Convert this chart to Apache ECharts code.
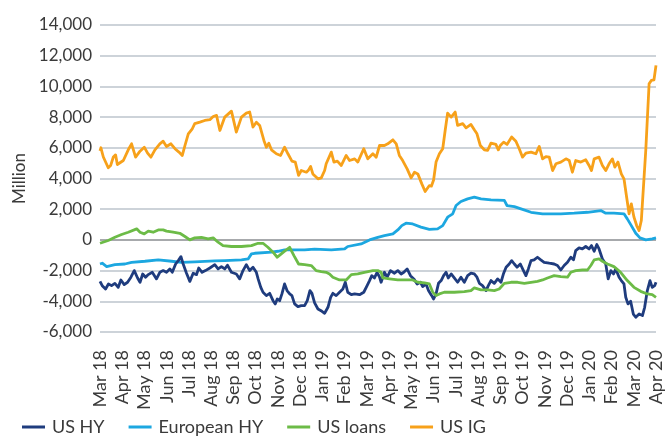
<!DOCTYPE html>
<html>
<head>
<meta charset="utf-8">
<script src="https://cdn.jsdelivr.net/npm/echarts@6/dist/echarts.min.js"></script>
<style>
  html, body { margin: 0; padding: 0; background: #fff; }
  #chart { width: 665px; height: 438px; }
</style>
</head>
<body>
<div id="chart"></div>
<script>
// Month labels, one per axis step (0 = Mar 18)
const months = ['Mar 18', 'Apr 18', 'May 18', 'Jun 18', 'Jul 18', 'Aug 18', 'Sep 18', 'Oct 18', 'Nov 18', 'Dec 18',
  'Jan 19', 'Feb 19', 'Mar 19', 'Apr 19', 'May 19', 'Jun 19', 'Jul 19', 'Aug 19', 'Sep 19', 'Oct 19', 'Nov 19', 'Dec 19',
  'Jan 20', 'Feb 20', 'Mar 20', 'Apr 20'];

const yTicks = [-6000, 14000, 2000]; // min, max, step

// [month position, flow in million]
const usHY = [
  [0, -2700], [0.1, -2980], [0.25, -3200], [0.38, -2870], [0.52, -2980], [0.67, -2830], [0.82, -3090], [0.94, -2610],
  [1.09, -2910], [1.24, -2760], [1.39, -2430], [1.54, -2000], [1.69, -2480], [1.8, -2760], [1.92, -2220], [2.05, -2430],
  [2.17, -2260], [2.35, -2110], [2.54, -2540], [2.69, -2110], [2.84, -2000], [2.99, -2110], [3.14, -1890], [3.25, -2110],
  [3.4, -1570], [3.52, -1350], [3.64, -1090], [3.74, -1570], [3.89, -2170], [4.04, -2700], [4.19, -2170], [4.34, -2260],
  [4.44, -1830], [4.59, -2110], [4.74, -2000], [4.94, -1830], [5.16, -1610], [5.31, -1890], [5.46, -1740], [5.61, -1890],
  [5.73, -1650], [5.91, -2110], [6.13, -2220], [6.28, -2540], [6.43, -2000], [6.58, -1610], [6.73, -2000], [6.88, -1780],
  [7.03, -2110], [7.11, -2540], [7.23, -3090], [7.33, -3410], [7.48, -3630], [7.63, -3480], [7.78, -3960], [7.88, -4170],
  [7.97, -3850], [8.08, -3960], [8.18, -3520], [8.3, -2870], [8.41, -3300], [8.53, -3520], [8.63, -3630], [8.75, -4170],
  [8.9, -4350], [9.05, -4280], [9.2, -4280], [9.32, -3960], [9.44, -3300], [9.53, -3480], [9.65, -4100], [9.8, -4500],
  [9.98, -4650], [10.1, -4780], [10.25, -4390], [10.37, -3740], [10.47, -3480], [10.62, -3630], [10.77, -3410],
  [10.92, -3200], [11.03, -2760], [11.14, -3410], [11.3, -3570], [11.45, -3520], [11.67, -3570], [11.86, -3410],
  [12.01, -2980], [12.12, -2650], [12.22, -2330], [12.34, -2480], [12.46, -2110], [12.57, -2430], [12.64, -2760],
  [12.79, -2110], [12.91, -2430], [13.06, -2000], [13.24, -2170], [13.39, -2000], [13.54, -2220], [13.66, -2110],
  [13.81, -1890], [13.96, -2330], [14.11, -2540], [14.26, -2870], [14.41, -2760], [14.51, -3040], [14.66, -2870],
  [14.77, -3300], [14.9, -3600], [15.0, -3850], [15.11, -3520], [15.22, -2830], [15.34, -2650], [15.45, -2330],
  [15.56, -2110], [15.66, -2480], [15.79, -2220], [15.93, -2480], [16.08, -2760], [16.23, -2430], [16.38, -2760],
  [16.53, -2330], [16.68, -2170], [16.83, -2220], [16.95, -2430], [17.06, -2830], [17.2, -2980], [17.36, -3300],
  [17.46, -2980], [17.58, -2650], [17.73, -2830], [17.88, -2540], [18.03, -2760], [18.15, -2170], [18.26, -1780],
  [18.4, -1570], [18.51, -1350], [18.63, -1570], [18.75, -1780], [18.9, -1570], [19.04, -2000], [19.15, -2330],
  [19.26, -1890], [19.38, -1350], [19.52, -1300], [19.67, -1130], [19.82, -1300], [19.97, -1460], [20.2, -1520],
  [20.42, -1570], [20.57, -1670], [20.72, -1960], [20.87, -1670], [21.02, -1460], [21.17, -1130], [21.29, -1300],
  [21.39, -700], [21.54, -520], [21.69, -590], [21.84, -430], [21.99, -590], [22.1, -370], [22.22, -740], [22.34, -300],
  [22.44, -590], [22.59, -1240], [22.74, -1570], [22.85, -2540], [22.97, -2000], [23.09, -2220], [23.19, -1890],
  [23.34, -2430], [23.44, -2650], [23.56, -2870], [23.64, -3740], [23.74, -4170], [23.86, -4000], [23.98, -4830],
  [24.09, -5040], [24.24, -4830], [24.39, -4930], [24.49, -4390], [24.61, -3300], [24.73, -2650], [24.83, -3090],
  [24.94, -2980], [25, -2760]
];

const euroHY = [
  [0, -1570], [0.1, -1520], [0.3, -1740], [0.67, -1610], [1.12, -1570], [1.42, -1460], [2.02, -1390], [2.62, -1300],
  [3.22, -1390], [3.67, -1460], [4.26, -1430], [5.16, -1370], [5.61, -1350], [6.36, -1300], [6.66, -1240], [6.81, -910],
  [6.96, -870], [7.71, -800], [8.0, -740], [8.3, -650], [9.2, -650], [9.65, -600], [10.4, -650], [11.0, -590],
  [11.14, -430], [11.74, -260], [12.12, 0], [12.49, 170], [12.79, 280], [13.17, 390], [13.39, 650], [13.57, 930],
  [13.76, 1090], [14.06, 1040], [14.43, 830], [14.81, 680], [15.18, 720], [15.41, 930], [15.63, 1480], [15.86, 1700],
  [16.01, 2240], [16.23, 2500], [16.53, 2670], [16.83, 2780], [17.13, 2670], [17.58, 2610], [18.18, 2570], [18.3, 2240],
  [18.63, 2170], [18.93, 2020], [19.38, 1800], [19.9, 1700], [20.12, 1700], [20.72, 1700], [21.32, 1740],
  [21.92, 1800], [22.52, 1910], [22.74, 1740], [23.11, 1740], [23.56, 1700], [23.71, 1370], [23.89, 930],
  [24.09, 430], [24.28, 130], [24.54, 0], [24.83, 70], [25, 130]
];

const usLoans = [
  [0, -220], [0.37, -40], [0.67, 170], [0.97, 350], [1.27, 500], [1.65, 720], [1.8, 500], [1.99, 390], [2.17, 570],
  [2.39, 500], [2.62, 650], [2.84, 650], [2.99, 570], [3.29, 500], [3.59, 430], [3.82, 220], [4.04, 0], [4.26, 130],
  [4.56, 170], [4.86, 70], [5.09, 130], [5.31, -150], [5.53, -370], [5.91, -430], [6.36, -430], [6.81, -370],
  [7.11, -220], [7.33, -220], [7.55, -480], [7.78, -800], [7.97, -1130], [8.15, -910], [8.33, -700], [8.53, -480],
  [8.72, -1020], [8.93, -1570], [9.2, -1610], [9.5, -1670], [9.72, -2000], [9.95, -2070], [10.17, -2110],
  [10.32, -2220], [10.47, -2430], [10.77, -2610], [11.07, -2610], [11.3, -2260], [11.59, -2220], [11.89, -2110],
  [12.27, -2000], [12.49, -2000], [12.64, -2110], [12.72, -2480], [13.02, -2540], [13.39, -2610], [14.06, -2610],
  [14.29, -2760], [14.59, -2800], [14.81, -2870], [14.96, -3400], [15.11, -3630], [15.26, -3520], [15.48, -3410],
  [15.93, -3410], [16.38, -3370], [16.68, -3300], [16.83, -3130], [17.13, -3260], [17.43, -3260], [17.73, -3300],
  [17.95, -3200], [18.18, -2830], [18.48, -2760], [18.78, -2760], [19.08, -2830], [19.38, -2760], [19.67, -2700],
  [19.9, -2610], [20.12, -2480], [20.42, -2330], [20.72, -2390], [21.02, -2430], [21.17, -2110], [21.39, -2000],
  [21.69, -1960], [21.92, -1960], [22.07, -1670], [22.22, -1300], [22.44, -1240], [22.59, -1390], [22.82, -1570],
  [23.11, -1740], [23.41, -2110], [23.71, -2650], [24.01, -3090], [24.31, -3350], [24.61, -3520], [24.83, -3570],
  [25, -3740]
];

const usIG = [
  [0, 5800], [0.04, 6000], [0.15, 5400], [0.37, 4700], [0.48, 4850], [0.6, 5400], [0.7, 5540], [0.78, 4910],
  [1.05, 5170], [1.27, 5870], [1.42, 6260], [1.6, 5390], [1.8, 5780], [1.99, 6040], [2.14, 5650], [2.29, 5390],
  [2.47, 5870], [2.69, 6260], [2.84, 6430], [2.99, 6090], [3.19, 6260], [3.37, 5940], [3.55, 5720], [3.7, 5500],
  [3.82, 6150], [3.97, 6910], [4.15, 7240], [4.26, 7570], [4.49, 7670], [4.71, 7780], [4.94, 7830], [5.09, 8040],
  [5.24, 8110], [5.39, 7130], [5.61, 8000], [5.91, 8390], [6.13, 7020], [6.36, 8000], [6.58, 8260], [6.73, 8330],
  [6.88, 7350], [7.03, 7670], [7.18, 7460], [7.37, 6480], [7.48, 6040], [7.59, 6300], [7.71, 5870], [7.93, 5610],
  [8.12, 5500], [8.3, 6040], [8.45, 5610], [8.63, 5130], [8.78, 5070], [8.93, 4200], [9.05, 4520], [9.28, 4410],
  [9.38, 4560], [9.47, 4780], [9.57, 4300], [9.8, 3980], [9.95, 4040], [10.1, 4520], [10.17, 4960], [10.4, 5720],
  [10.52, 5070], [10.67, 5130], [10.85, 4850], [11.07, 5500], [11.22, 5170], [11.45, 5280], [11.59, 5070],
  [11.86, 5940], [12.04, 5280], [12.27, 5610], [12.42, 5390], [12.57, 6150], [12.79, 6150], [12.94, 6260],
  [13.17, 6520], [13.32, 6260], [13.46, 5500], [13.61, 5170], [13.81, 4630], [13.99, 4040], [14.14, 4410],
  [14.29, 4300], [14.47, 3650], [14.62, 3150], [14.81, 3540], [14.9, 3500], [15.0, 3900], [15.11, 5070],
  [15.26, 5610], [15.41, 5940], [15.52, 7130], [15.63, 8260], [15.79, 8000], [15.97, 8330], [16.08, 7460],
  [16.31, 7570], [16.46, 7300], [16.68, 7520], [16.83, 7170], [16.95, 6910], [17.1, 6150], [17.28, 5870],
  [17.43, 5830], [17.58, 6300], [17.8, 6220], [17.91, 5870], [18.0, 6150], [18.15, 6370], [18.3, 6220],
  [18.51, 6700], [18.7, 6430], [18.85, 5940], [19.0, 5390], [19.15, 5650], [19.38, 5720], [19.6, 5610],
  [19.75, 6090], [19.9, 5280], [20.05, 5430], [20.2, 5390], [20.35, 4520], [20.5, 4960], [20.72, 5070],
  [20.95, 5280], [21.1, 5170], [21.24, 4410], [21.39, 5170], [21.62, 5070], [21.84, 5220], [21.99, 4850],
  [22.1, 4520], [22.22, 5280], [22.44, 5390], [22.59, 4850], [22.74, 4520], [22.89, 4960], [23.04, 5280],
  [23.15, 4740], [23.29, 5070], [23.44, 4300], [23.56, 3980], [23.68, 2780], [23.79, 1700], [23.89, 2350],
  [24.01, 1480], [24.13, 935], [24.24, 610], [24.34, 1260], [24.54, 5830], [24.69, 10170], [24.79, 10390],
  [24.91, 10430], [25, 11370]
];

const seriesNames = ['US HY', 'European HY', 'US loans', 'US IG'];
const seriesColors = ['#1f3c7e', '#1ca7e0', '#6cbb47', '#f7a11a'];
const seriesData = [usHY, euroHY, usLoans, usIG];

const FONT = 'Lato, "Open Sans", sans-serif';
const TEXT = '#3a3a3a';

// zero line darker than the other grid lines (split lines cycle through this list)
const gridColors = [];
for (let v = yTicks[0]; v <= yTicks[1]; v += yTicks[2]) {
  gridColors.push(v === 0 ? '#8a8d90' : '#bcc5cd');
}

const chart = echarts.init(document.getElementById('chart'));

chart.setOption({
  animation: false,
  grid: { left: 100, right: 7, top: 25, bottom: 106, containLabel: false },
  legend: {
    left: 17,
    top: 413,
    icon: 'rect',
    itemWidth: 23,
    itemHeight: 3,
    itemGap: 24,
    textStyle: { fontFamily: FONT, fontSize: 18, color: TEXT, padding: [0, 0, 0, 2] },
    data: seriesNames
  },
  xAxis: {
    type: 'value',
    min: 0,
    max: months.length - 1,
    interval: 1,
    axisLine: { show: false },
    axisTick: { show: false },
    splitLine: { show: false },
    axisLabel: {
      rotate: 90,
      margin: 18,
      fontFamily: FONT,
      fontSize: 18,
      color: TEXT,
      formatter: (v) => months[v] || ''
    }
  },
  yAxis: {
    type: 'value',
    min: yTicks[0],
    max: yTicks[1],
    interval: yTicks[2],
    name: 'Million',
    nameLocation: 'middle',
    nameGap: 60,
    nameTextStyle: { fontFamily: FONT, fontSize: 17, color: TEXT },
    axisLine: { show: false },
    axisTick: { show: false },
    axisLabel: {
      margin: 8,
      fontFamily: FONT,
      fontSize: 17,
      color: TEXT,
      formatter: (v) => v.toLocaleString('en-US')
    },
    splitLine: { lineStyle: { color: gridColors, width: 1.5 } }
  },
  series: seriesNames.map((name, i) => ({
    name: name,
    type: 'line',
    data: seriesData[i],
    showSymbol: false,
    symbol: 'none',
    z: i === 0 ? 5 : 3 + i,
    lineStyle: { color: seriesColors[i], width: 2.8, join: 'round' },
    itemStyle: { color: seriesColors[i] }
  }))
});

window.addEventListener('resize', () => chart.resize());
</script>
</body>
</html>
